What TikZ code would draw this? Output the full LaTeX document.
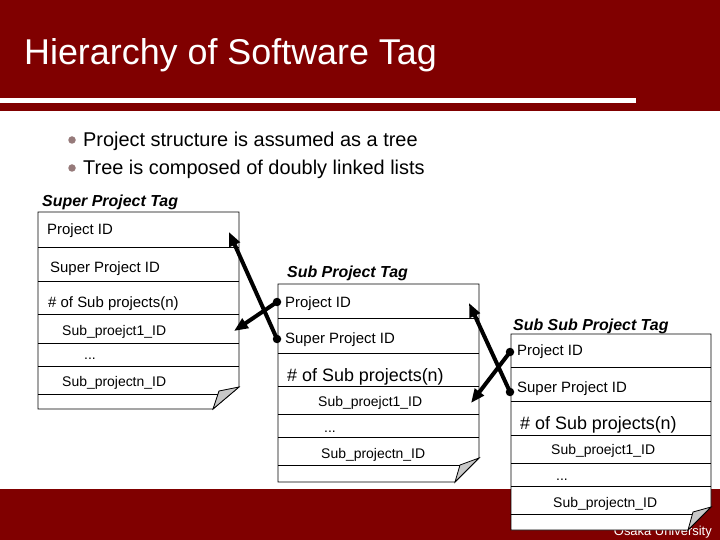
\documentclass[tikz,border=0pt]{standalone}
\usepackage{fontspec}
\setmainfont{Liberation Sans}
\usetikzlibrary{arrows.meta}
\definecolor{maroon}{RGB}{128,0,0}
\definecolor{bulletc}{RGB}{150,122,122}
\definecolor{foldc}{RGB}{200,200,200}
\begin{document}
\begin{tikzpicture}[x=1bp,y=-1bp,
  boxline/.style={draw=black,line width=0.8bp},
  boxfill/.style={draw=black,fill=white,line width=0.8bp},
  foldtri/.style={draw=black,fill=foldc,line width=0.8bp},
  rowtxt/.style={anchor=base west,inner sep=0,font=\fontsize{15}{17}\selectfont},
  subtxt/.style={anchor=base west,inner sep=0,font=\fontsize{14}{16}\selectfont},
  bigtxt/.style={anchor=base west,inner sep=0,font=\fontsize{18}{20}\selectfont},
  tagtitle/.style={anchor=base west,inner sep=0,font=\fontsize{16}{18}\selectfont\bfseries\itshape},
  bullettxt/.style={anchor=base west,inner sep=0,font=\fontsize{20}{24}\selectfont},
  bulletdot/.style={circle,fill=bulletc,inner sep=0,minimum size=7.5bp},
  linkdot/.style={circle,fill=black,inner sep=0,minimum size=8.5bp},
  link/.style={line width=4bp,-{Triangle[length=14bp,width=11bp]}}]
\useasboundingbox (0,0) rectangle (720,540);
% header
\fill[maroon] (0,0) rectangle (720,111);
\fill[white] (0,98) rectangle (636,103);
\node[anchor=base west,text=white,inner sep=0,font=\fontsize{36}{40}\selectfont] (title) at (24,65) {Hierarchy of Software Tag};
% footer
\fill[maroon] (0,489) rectangle (720,540);
\node[anchor=base east,text=white,inner sep=0,font=\fontsize{13}{15}\selectfont] (osaka) at (712,535) {Osaka University};
% bullets
\node[bulletdot] (b1) at (72,140) {};
\node[bullettxt] (t1) at (83,147) {Project structure is assumed as a tree};
\node[bulletdot] (b2) at (72,168) {};
\node[bullettxt] (t2) at (83,175) {Tree is composed of doubly linked lists};
% ---- Box 1
\node[tagtitle] (title1) at (42,207) {Super Project Tag};
\draw[boxfill] (38,212) -- (239,212) -- (239,387) -- (213,409) -- (38,409) -- cycle;
\draw[foldtri] (213,409) -- (219,391) -- (239,387) -- cycle;
\foreach \yy in {247,281,314,343,366} \draw[boxline] (38,\yy) -- (239,\yy);
\draw[boxline] (38,394) -- (218,394);
\node[rowtxt] (p1) at (47,235) {Project ID};
\node[rowtxt] (s1) at (50,273) {Super Project ID};
\node[rowtxt] (n1) at (48,307) {\# of Sub projects(n)};
\node[subtxt] (a1) at (62,335) {Sub\_proejct1\_ID};
\node[subtxt] (d1) at (84,359) {...};
\node[subtxt] (z1) at (62,386) {Sub\_projectn\_ID};
% ---- Box 2
\node[tagtitle] (title2) at (287,278) {Sub Project Tag};
\draw[boxfill] (278,284) -- (479,284) -- (479,458) -- (455,482) -- (278,482) -- cycle;
\draw[foldtri] (455,482) -- (460,465) -- (479,458) -- cycle;
\foreach \yy in {318,353,386,414,437} \draw[boxline] (278,\yy) -- (479,\yy);
\draw[boxline] (278,465) -- (460,465);
\node[rowtxt] (p2) at (285,307) {Project ID};
\node[rowtxt] (s2) at (285,343) {Super Project ID};
\node[bigtxt] (n2) at (287,381.5) {\# of Sub projects(n)};
\node[subtxt] (a2) at (318,406) {Sub\_proejct1\_ID};
\node[subtxt] (d2) at (324,432) {...};
\node[subtxt] (z2) at (321,458) {Sub\_projectn\_ID};
% ---- Box 3
\node[tagtitle] (title3) at (513,330) {Sub Sub Project Tag};
\draw[boxfill] (511,334) -- (711,334) -- (711,507) -- (688,530) -- (511,530) -- cycle;
\draw[foldtri] (688,530) -- (693,512) -- (711,507) -- cycle;
\foreach \yy in {367,401,435,463,486} \draw[boxline] (511,\yy) -- (711,\yy);
\draw[boxline] (511,514) -- (692,514);
\node[rowtxt] (p3) at (517,355) {Project ID};
\node[rowtxt] (s3) at (517,392) {Super Project ID};
\node[bigtxt] (n3) at (520,429.5) {\# of Sub projects(n)};
\node[subtxt] (a3) at (551,454) {Sub\_proejct1\_ID};
\node[subtxt] (d3) at (556,480) {...};
\node[subtxt] (z3) at (553,507) {Sub\_projectn\_ID};
% ---- links
\node[linkdot] (dA) at (277,339) {};
\node[linkdot] (dB) at (277,302) {};
\node[linkdot] (dC) at (510,392) {};
\node[linkdot] (dD) at (510,352) {};
\coordinate (tA) at (229,232);
\coordinate (tB) at (234,331);
\coordinate (tC) at (469,303);
\coordinate (tD) at (471,403);
\draw[link] (dA.center) -- (tA);
\draw[link] (dB.center) -- (tB);
\draw[link] (dC.center) -- (tC);
\draw[link] (dD.center) -- (tD);
\end{tikzpicture}
\end{document}
